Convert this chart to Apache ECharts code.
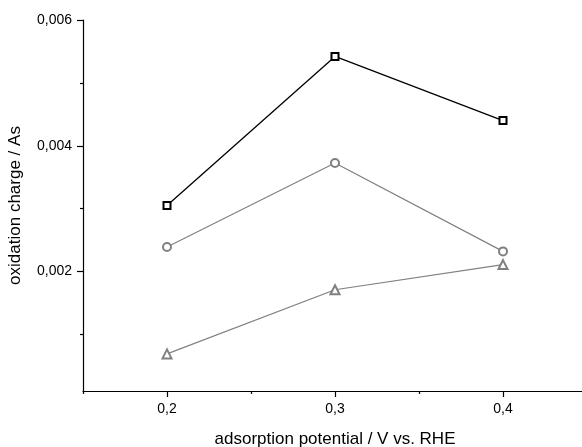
<!DOCTYPE html>
<html>
<head>
<meta charset="utf-8">
<script src="https://cdn.jsdelivr.net/npm/echarts@6/dist/echarts.min.js"></script>
<style>
  html, body { margin: 0; padding: 0; background: #fff; }
  #main { width: 582px; height: 447px; }
</style>
</head>
<body>
<div id="main"></div>
<script>
// adsorption potential (V vs. RHE)
var potentials = [0.2, 0.3, 0.4];
// oxidation charge (As) for the three curves
var squareSeries = [0.00305, 0.00542, 0.0044];
var circleSeries = [0.00239, 0.003725, 0.00232];
var triangleSeries = [0.00069, 0.00171, 0.00211];

var xMajor = [0.2, 0.3, 0.4];
var xMinor = [0.15, 0.25, 0.35, 0.45];
var yMajor = [0.002, 0.004, 0.006];
var yMinor = [0.001, 0.003, 0.005];

function pairs(ys) {
    return potentials.map(function (x, i) { return [x, ys[i]]; });
}

function comma(v, d) {
    return v.toFixed(d).replace('.', ',');
}

var font = 'Liberation Sans, Arial, sans-serif';
var axisLine = { show: true, lineStyle: { color: '#000', width: 1.2 } };

var chart = echarts.init(document.getElementById('main'));

var option = {
    animation: false,
    grid: { left: 83, width: 504, top: 20, height: 371, outerBoundsMode: 'none', containLabel: false },
    xAxis: [{
        type: 'value',
        min: 0.15,
        max: 0.45,
        axisLine: axisLine,
        splitLine: { show: false },
        axisTick: { customValues: xMajor, length: 6, lineStyle: { color: '#000', width: 1.2 } },
        axisLabel: {
            customValues: xMajor,
            margin: 11,
            color: '#000',
            fontSize: 14,
            fontFamily: font,
            formatter: function (v) { return comma(v, 1); }
        },
        name: 'adsorption potential / V vs. RHE',
        nameLocation: 'middle',
        nameGap: 40,
        nameTextStyle: { color: '#000', fontSize: 17, fontFamily: font }
    }, {
        type: 'value',
        min: 0.15,
        max: 0.45,
        position: 'bottom',
        axisLine: { show: false },
        splitLine: { show: false },
        axisTick: { customValues: xMinor, length: 3, lineStyle: { color: '#000', width: 1.2 } },
        axisLabel: { show: false }
    }],
    yAxis: [{
        type: 'value',
        min: 0.0001,
        max: 0.006,
        axisLine: axisLine,
        splitLine: { show: false },
        axisTick: { customValues: yMajor, length: 6, lineStyle: { color: '#000', width: 1.2 } },
        axisLabel: {
            customValues: yMajor,
            margin: 11,
            color: '#000',
            fontSize: 14,
            fontFamily: font,
            formatter: function (v) { return comma(v, 3); }
        },
        name: 'oxidation charge / As',
        nameLocation: 'middle',
        nameGap: 59,
        nameTextStyle: { color: '#000', fontSize: 17, fontFamily: font }
    }, {
        type: 'value',
        min: 0.0001,
        max: 0.006,
        position: 'left',
        axisLine: { show: false },
        splitLine: { show: false },
        axisTick: { customValues: yMinor, length: 3, lineStyle: { color: '#000', width: 1.2 } },
        axisLabel: { show: false }
    }],
    series: [{
        type: 'line',
        data: pairs(squareSeries),
        symbol: 'emptyRect',
        symbolSize: 7,
        lineStyle: { color: '#000', width: 1.3 },
        itemStyle: { color: '#000', borderWidth: 1.8 }
    }, {
        type: 'line',
        data: pairs(circleSeries),
        symbol: 'emptyCircle',
        symbolSize: 8,
        lineStyle: { color: '#808080', width: 1.2 },
        itemStyle: { color: '#808080', borderWidth: 1.8 }
    }, {
        type: 'line',
        data: pairs(triangleSeries),
        symbol: 'emptyTriangle',
        symbolSize: 9,
        lineStyle: { color: '#808080', width: 1.2 },
        itemStyle: { color: '#808080', borderWidth: 1.8 }
    }]
};

chart.setOption(option);
</script>
</body>
</html>
